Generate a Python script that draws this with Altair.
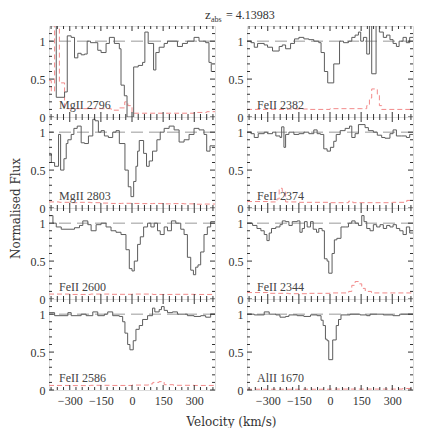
import altair as alt
import pandas as pd

VMIN, VMAX = -400, 400
YMIN, YMAX = 0.0, 1.2
W, H = 166, 91

# ---- panel names (row-major: left, right) ----
names = ["MgII 2796", "FeII 2382", "MgII 2803", "FeII 2374",
         "FeII 2600", "FeII 2344", "FeII 2586", "AlII 1670"]

# ---- flux spectra: bin left edges (km/s) and normalised flux ----
v_mg2796 = [-400, -365, -325, -312, -293, -277, -261, -245, -229, -216, -200, -165, -149, -125, -109,
            -85, -61, -53, -37, -24, 8, 30, 51, 62, 78, 104, 115, 131, 155, 171, 219, 243, 267, 299,
            323, 355, 371, 382]
f_mg2796 = [1.3, 0.26, 0.33, 1.07, 1.05, 0.78, 0.84, 0.82, 0.83, 1.0, 0.98, 0.88, 0.85, 0.97, 1.05,
            0.97, 0.9, 0.42, 0.28, 0.0, 0.66, 0.68, 0.72, 1.12, 0.97, 0.62, 0.85, 0.92, 0.97, 1.0, 0.93,
            0.97, 1.0, 1.05, 1.0, 0.98, 0.72, 0.6]

v_fe2382 = [-400, -381, -365, -349, -317, -301, -277, -245, -230, -214, -190, -171, -150, -126, -102,
            -78, -54, -43, -27, -11, 18, 46, 65, 89, 105, 121, 137, 148, 161, 177, 190, 201, 222, 238,
            257, 273, 289, 304, 320, 333, 352, 368, 384]
f_fe2382 = [1.0, 0.98, 0.92, 0.97, 0.95, 0.92, 0.87, 0.93, 0.95, 0.9, 0.97, 1.03, 1.05, 1.03, 1.02,
            1.0, 0.98, 0.85, 0.6, 0.45, 0.7, 1.0, 0.98, 1.0, 1.05, 1.08, 1.12, 1.0, 1.05, 0.83, 1.25,
            0.57, 1.25, 1.12, 1.05, 1.08, 1.02, 0.97, 0.93, 1.0, 1.05, 0.98, 1.05]

v_mg2803 = [-400, -389, -373, -354, -344, -328, -317, -309, -293, -280, -264, -245, -229, -210, -189,
            -178, -162, -149, -133, -114, -93, -77, -61, -34, -18, -5, 8, 19, 27, 35, 56, 70, 83, 99,
            120, 136, 155, 179, 203, 227, 251, 275, 299, 323, 347, 360, 376]
f_mg2803 = [0.72, 0.6, 0.55, 0.97, 0.5, 0.65, 0.85, 0.9, 0.97, 1.05, 1.08, 0.86, 0.85, 0.95, 1.17,
            1.15, 1.0, 1.02, 0.95, 0.93, 1.0, 1.02, 0.85, 0.5, 0.28, 0.15, 0.35, 0.55, 0.75, 0.89, 0.72,
            0.55, 0.62, 0.75, 0.9, 1.0, 1.05, 1.08, 1.03, 0.87, 0.9, 0.97, 1.05, 1.03, 0.97, 0.75, 0.82]

v_fe2374 = [-400, -381, -365, -346, -317, -301, -277, -261, -241, -233, -222, -214, -198, -174, -150,
            -126, -102, -78, -62, -46, -30, -14, 2, 18, 30, 49, 73, 94, 105, 121, 137, 169, 185, 209,
            228, 249, 265, 289, 304, 320, 344, 368, 384]
f_fe2374 = [1.0, 0.98, 0.93, 0.98, 1.0, 0.98, 1.0, 0.95, 0.93, 1.07, 0.8, 0.97, 1.0, 0.97, 0.98,
            1.0, 0.98, 1.03, 0.98, 0.97, 0.78, 0.75, 0.8, 0.88, 0.97, 1.02, 1.05, 1.08, 0.93, 0.98, 1.1,
            1.06, 1.02, 1.0, 0.96, 0.93, 0.92, 0.98, 1.03, 0.95, 0.95, 0.93, 0.97]

v_fe2600 = [-400, -381, -365, -341, -277, -253, -237, -213, -197, -173, -149, -125, -101, -77, -53,
            -29, -13, 0, 11, 27, 40, 56, 75, 91, 107, 123, 136, 155, 171, 190, 211, 235, 251, 267, 283,
            296, 307, 318, 331, 347, 363, 379]
f_fe2600 = [1.1, 1.0, 0.95, 0.92, 0.94, 0.97, 1.03, 0.98, 0.9, 0.98, 1.0, 0.95, 0.9, 0.88, 0.85,
            0.65, 0.4, 0.37, 0.5, 0.72, 0.82, 0.95, 1.0, 0.95, 1.0, 0.9, 0.85, 0.95, 0.9, 1.03, 1.0,
            0.92, 0.85, 0.55, 0.38, 0.32, 0.42, 0.45, 0.62, 0.85, 0.95, 1.02]

v_fe2344 = [-400, -373, -352, -333, -317, -304, -293, -282, -261, -241, -230, -214, -198, -182, -158,
            -145, -134, -123, -110, -94, -81, -65, -54, -38, -27, -14, -6, 10, 21, 33, 53, 73, 89, 105,
            121, 137, 153, 164, 177, 193, 209, 225, 241, 257, 273, 289, 304, 320, 336, 352, 368, 384]
f_fe2344 = [1.0, 0.97, 0.93, 0.9, 0.85, 0.77, 0.87, 0.93, 0.95, 0.98, 1.03, 1.02, 0.97, 1.02, 1.03,
            0.88, 0.93, 1.02, 0.95, 1.02, 0.92, 0.88, 0.93, 0.9, 0.53, 0.5, 0.34, 0.6, 0.78, 0.8, 0.95,
            0.95, 1.0, 1.03, 1.0, 0.97, 1.1, 1.02, 0.93, 0.9, 0.98, 0.95, 0.98, 0.93, 0.97, 0.95, 0.98,
            0.93, 0.9, 0.85, 0.95, 0.87]

v_fe2586 = [-400, -373, -309, -293, -245, -221, -189, -165, -133, -117, -93, -61, -45, -34, -21,
            -10, 6, 19, 35, 51, 75, 99, 110, 131, 142, 155, 171, 195, 219, 267, 299, 331, 355, 379]
f_fe2586 = [1.02, 0.98, 1.02, 0.98, 1.0, 0.98, 1.03, 0.98, 1.0, 1.03, 0.98, 0.97, 0.9, 0.75, 0.6,
            0.53, 0.65, 0.8, 0.85, 0.93, 0.98, 1.08, 1.03, 1.06, 1.1, 1.05, 1.02, 1.03, 1.0, 0.98, 0.97,
            0.98, 0.96, 1.0]

v_al1670 = [-400, -365, -317, -293, -261, -241, -214, -198, -158, -126, -94, -62, -43, -33, -22,
            -14, -6, 13, 30, 41, 53, 97, 145, 177, 193, 257, 304, 336]
f_al1670 = [1.0, 0.99, 1.03, 1.0, 0.99, 0.96, 0.97, 0.99, 0.98, 0.97, 0.99, 0.98, 0.92, 0.85, 0.67,
            0.65, 0.4, 0.66, 0.85, 0.93, 0.99, 1.0, 0.99, 0.98, 1.0, 0.99, 0.98, 1.0]

# ---- error spectra ----
ev_mg2796 = [-400, -389, -373, -350, -325, -100, -60, -35, -20, 0, 300, 360]
e_mg2796 = [0.48, 0.34, 1.3, 0.45, 0.11, 0.09, 0.12, 0.2, 0.15, 0.05, 0.06, 0.07]

ev_fe2382 = [-400, -300, -200, -100, 0, 150, 177, 190, 201, 228, 238, 249, 350]
e_fe2382 = [0.1, 0.1, 0.105, 0.1, 0.11, 0.11, 0.15, 0.25, 0.37, 0.3, 0.15, 0.1, 0.1]

ev_mg2803 = [-400, -350, -300, -250, -200, -150, -100, -50, 0, 50, 100, 150, 200, 250, 300, 350]
e_mg2803 = [0.08, 0.075, 0.07, 0.075, 0.07, 0.065, 0.06, 0.062, 0.06, 0.058, 0.06, 0.055, 0.058,
            0.055, 0.05, 0.052]

ev_fe2374 = [-400, -300, -255, -245, -230, -214, -150, 0, 90, 110, 300, 370]
e_fe2374 = [0.085, 0.08, 0.12, 0.26, 0.22, 0.08, 0.075, 0.07, 0.09, 0.07, 0.075, 0.1]

ev_fe2600 = [-400, -300, -200, -100, 0, 100, 200, 300]
e_fe2600 = [0.065, 0.06, 0.065, 0.062, 0.065, 0.06, 0.062, 0.06]

ev_fe2344 = [-400, -300, -200, -100, 0, 90, 105, 121, 137, 153, 170, 200, 300]
e_fe2344 = [0.085, 0.075, 0.07, 0.075, 0.08, 0.1, 0.18, 0.23, 0.2, 0.14, 0.1, 0.08, 0.08]

ev_fe2586 = [-400, -300, -200, -100, 0, 80, 100, 130, 155, 200, 300]
e_fe2586 = [0.06, 0.058, 0.062, 0.06, 0.065, 0.08, 0.1, 0.11, 0.07, 0.062, 0.06]

ev_al1670 = [-400, -200, 0, 200, 350]
e_al1670 = [0.01, 0.01, 0.012, 0.012, 0.02]

# ---- axis ticks / labels ----
x_labels = [-300, -150, 0, 150, 300]
x_minor = [-390, -360, -330, -270, -240, -210, -180, -120, -90, -60, -30,
           30, 60, 90, 120, 180, 210, 240, 270, 330, 360, 390]
y_labels = [0, 0.5, 1]
y_minor = [0.1, 0.2, 0.3, 0.4, 0.6, 0.7, 0.8, 0.9, 1.1]

title_z, title_sub, title_rest = "z", "abs", "= 4.13983"
y_title = "Normalised Flux"
x_title = "Velocity (km/s)"

spectra = [
    (v_mg2796, f_mg2796, ev_mg2796, e_mg2796),
    (v_fe2382, f_fe2382, ev_fe2382, e_fe2382),
    (v_mg2803, f_mg2803, ev_mg2803, e_mg2803),
    (v_fe2374, f_fe2374, ev_fe2374, e_fe2374),
    (v_fe2600, f_fe2600, ev_fe2600, e_fe2600),
    (v_fe2344, f_fe2344, ev_fe2344, e_fe2344),
    (v_fe2586, f_fe2586, ev_fe2586, e_fe2586),
    (v_al1670, f_al1670, ev_al1670, e_al1670),
]

SERIF = "Liberation Serif"
TSERIF = "DejaVu Serif"
INK = "#333333"


def step_df(edges, vals):
    return pd.DataFrame({"v": list(edges) + [VMAX], "f": list(vals) + [vals[-1]]})


def panel(i):
    name = names[i]
    fv, ff, ev, ef = spectra[i]
    row, col = divmod(i, 2)
    bottom = row == 3
    xs = alt.Scale(domain=[VMIN, VMAX], nice=False, zero=False)
    ys = alt.Scale(domain=[YMIN, YMAX], nice=False, zero=False)
    if bottom:
        xkw = dict(values=x_labels, format="d", labelFlush=False, ticks=False, domain=False,
                   grid=False, labelPadding=5, labelFont=SERIF, labelFontSize=12,
                   labelColor=INK)
        if col == 0:
            xkw.update(title=x_title, titleX=182, titlePadding=10, titleFont=TSERIF,
                       titleFontSize=12, titleFontWeight="normal", titleColor=INK)
        else:
            xkw.update(title=None)
        xaxis = alt.Axis(**xkw)
    else:
        xaxis = None
    ykw = dict(values=y_labels, format="~g", labelFlush=False, ticks=False, domain=False,
               grid=False, labelPadding=4, labelFont=SERIF, labelFontSize=12, labelColor=INK)
    if row == 1 and col == 0:
        ykw.update(title=y_title, titleY=H, titlePadding=8, titleFont=TSERIF, titleFontSize=12,
                   titleFontWeight="normal", titleColor=INK)
    else:
        ykw.update(title=None)
    yaxis = alt.Axis(**ykw)

    X = alt.X("v:Q", scale=xs, axis=xaxis)
    Y = alt.Y("f:Q", scale=ys, axis=yaxis)

    unity = alt.Chart(pd.DataFrame({"f": [1.0]})).mark_rule(
        color="#999999", strokeDash=[12, 6], strokeWidth=1).encode(y=Y)
    err = alt.Chart(step_df(ev, ef)).mark_line(
        interpolate="step-after", color="#f28a8a", strokeDash=[5, 3], strokeWidth=1,
        clip=True).encode(x=X, y=Y)
    flux = alt.Chart(step_df(fv, ff)).mark_line(
        interpolate="step-after", color="#5c5c5c", strokeWidth=1, clip=True).encode(x=X, y=Y)

    xmaj = pd.DataFrame({"v": x_labels})
    xmin = pd.DataFrame({"v": x_minor})
    ymaj = pd.DataFrame({"f": y_labels})
    ymin = pd.DataFrame({"f": y_minor})
    tk = dict(color=INK, strokeWidth=1)
    ticks = [
        alt.Chart(xmaj).mark_rule(**tk).encode(x=X, y=alt.value(0), y2=alt.value(5)),
        alt.Chart(xmaj).mark_rule(**tk).encode(x=X, y=alt.value(H - 5), y2=alt.value(H)),
        alt.Chart(xmin).mark_rule(**tk).encode(x=X, y=alt.value(0), y2=alt.value(3)),
        alt.Chart(xmin).mark_rule(**tk).encode(x=X, y=alt.value(H - 3), y2=alt.value(H)),
        alt.Chart(ymaj).mark_rule(**tk).encode(y=Y, x=alt.value(0), x2=alt.value(5)),
        alt.Chart(ymaj).mark_rule(**tk).encode(y=Y, x=alt.value(W - 5), x2=alt.value(W)),
        alt.Chart(ymin).mark_rule(**tk).encode(y=Y, x=alt.value(0), x2=alt.value(3)),
        alt.Chart(ymin).mark_rule(**tk).encode(y=Y, x=alt.value(W - 3), x2=alt.value(W)),
    ]
    label = alt.Chart(pd.DataFrame({"t": [name]})).mark_text(
        align="left", baseline="alphabetic", font=SERIF, fontSize=12, color="#444444").encode(
        text="t:N", x=alt.value(10), y=alt.value(H - 8))

    layers = [unity, err, flux] + ticks + [label]
    if i == 0:
        tz = alt.Chart(pd.DataFrame({"t": [title_z]})).mark_text(
            align="left", baseline="alphabetic", font=SERIF, fontSize=13, color=INK).encode(
            text="t:N", x=alt.value(156), y=alt.value(-7))
        ts = alt.Chart(pd.DataFrame({"t": [title_sub]})).mark_text(
            align="left", baseline="alphabetic", font=SERIF, fontSize=8, color=INK).encode(
            text="t:N", x=alt.value(162), y=alt.value(-4))
        tr = alt.Chart(pd.DataFrame({"t": [title_rest]})).mark_text(
            align="left", baseline="alphabetic", font=SERIF, fontSize=12, color=INK).encode(
            text="t:N", x=alt.value(177), y=alt.value(-7))
        layers += [tz, ts, tr]
    return alt.layer(*layers).properties(width=W, height=H)


panels = [panel(i) for i in range(8)]

chart = alt.concat(*panels, columns=2, spacing={"row": 0, "column": 32}, bounds="flush").properties(
    padding={"left": 0, "top": 0, "right": 0, "bottom": 0}
).configure_view(stroke=INK, strokeWidth=1).configure(background="white")

chart.save("out.html", embed_options={"renderer": "svg", "actions": False})
